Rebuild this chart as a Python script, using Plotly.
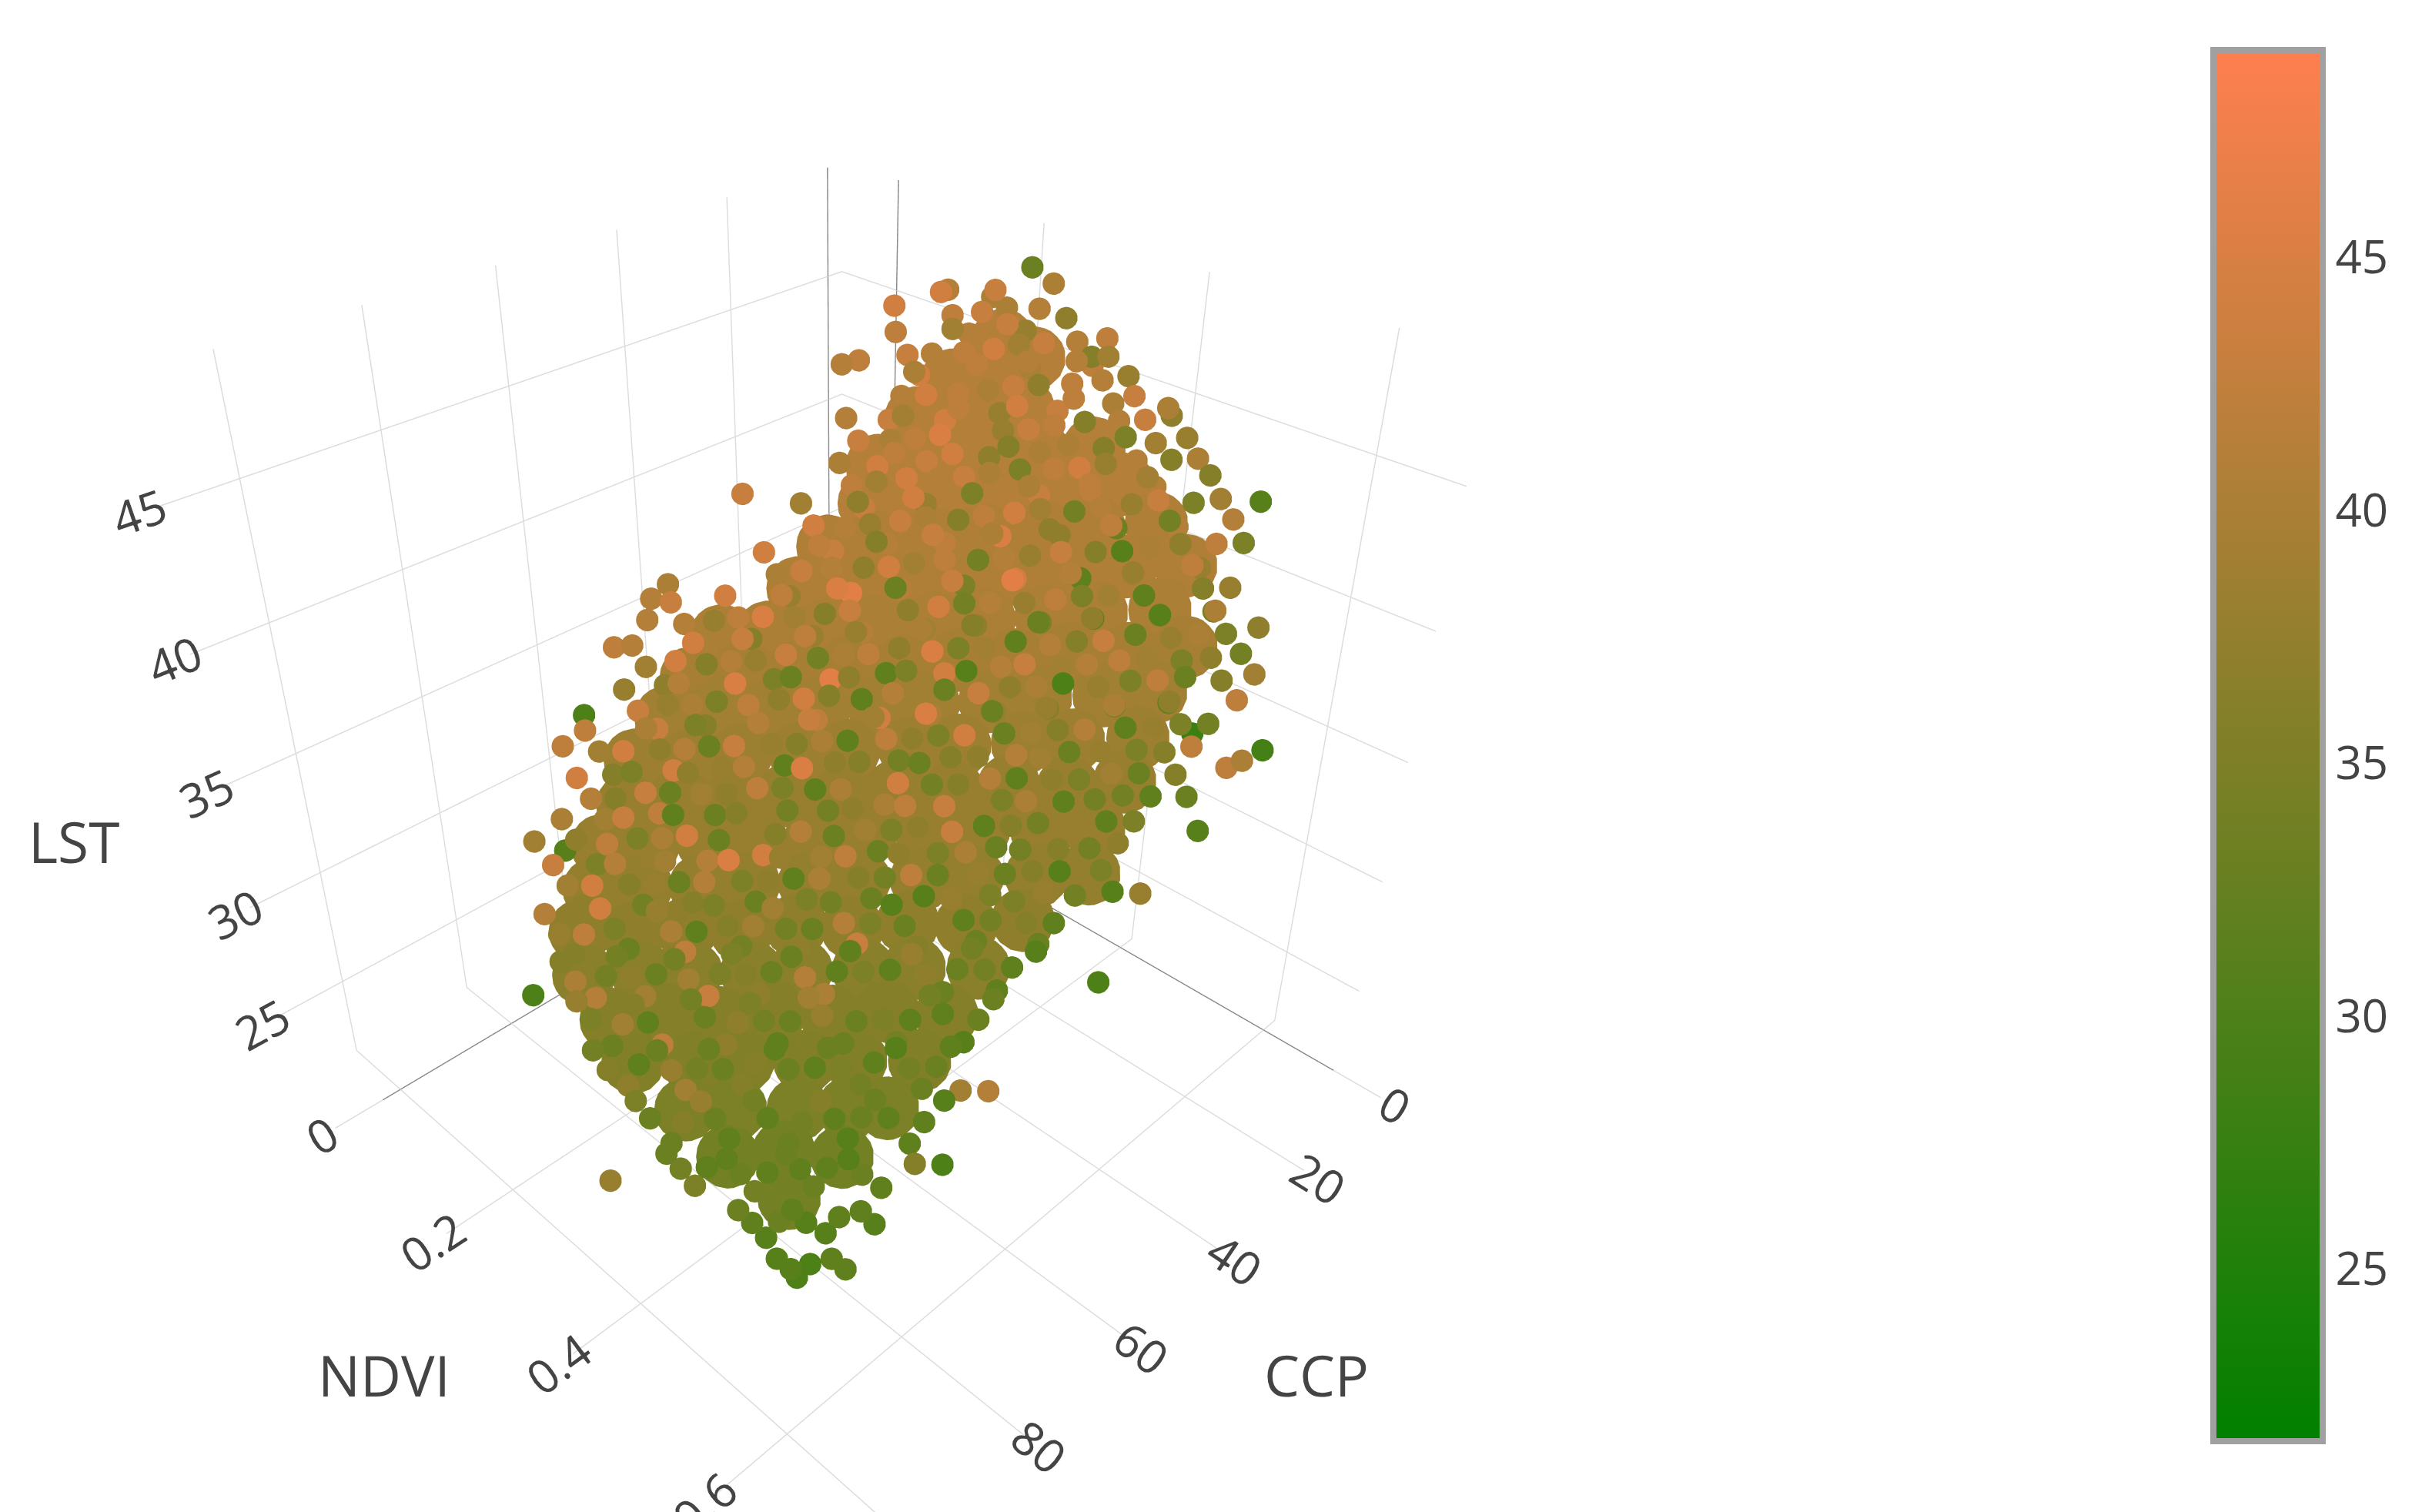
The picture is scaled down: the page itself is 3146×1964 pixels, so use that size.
import plotly.graph_objects as go

# cloud of samples top to bottom
ccp = [
    10, 7, 5, 3, 1,
    16, 14, 12, 9, 7, 5, 3, 0,
    20, 18, 16, 13, 11, 9, 7, 4, 2,
    27, 25, 23, 21, 18, 16, 14, 12, 9, 7, 5, 3,
    31, 29, 26, 24, 22, 20, 17, 15, 13, 11, 8, 6, 4,
    37, 35, 33, 30, 28, 26, 24, 21, 19, 17, 15, 12, 10, 8, 6,
    44, 42, 39, 37, 35, 33, 30, 28, 26, 24, 21, 19, 17, 15, 12, 10, 8,
    55, 52, 50, 48, 46, 43, 41, 39, 37, 34, 32, 30, 28, 25, 23, 21, 19, 16, 14, 12,
    61, 58, 56, 54, 52, 49, 47, 45, 43, 40, 38, 36, 34, 31, 29, 27, 25, 22, 20, 18, 16, 13,
    65, 62, 60, 58, 56, 53, 51, 49, 47, 44, 42, 40, 38, 35, 33, 31, 29, 26, 24, 22, 20, 17,
    71, 69, 66, 64, 62, 60, 57, 55, 53, 51, 48, 46, 44, 42, 39, 37, 35, 33, 30, 28, 26, 24,
    75, 73, 70, 68, 66, 64, 61, 59, 57, 55, 52, 50, 48, 46, 43, 41, 39, 37, 34, 32, 30, 28,
    79, 77, 74, 72, 70, 68, 65, 63, 61, 59, 56, 54, 52, 50, 47, 45, 43, 41, 38, 36, 34,
    83, 81, 78, 76, 74, 72, 69, 67, 65, 63, 60, 58, 56, 54, 51, 49, 47, 45, 42, 40,
    87, 85, 82, 80, 78, 76, 73, 71, 69, 67, 64, 62, 60, 58, 55, 53, 51, 49, 46,
    89, 86, 84, 82, 80, 77, 75, 73, 71, 68, 66, 64, 62, 59, 57, 55, 53,
    90, 88, 86, 84, 81, 79, 77, 75, 72, 70, 68, 66, 63, 61, 59,
    92, 89, 87, 85, 83, 80, 78, 76, 74, 71, 69, 67, 65,
    92, 90, 87, 85, 83, 81, 78, 76, 74, 72, 69,
    93, 91, 89, 87, 84, 82, 80, 77,
    91, 89, 87, 84, 82,
    91, 89, 87,
    # stragglers around the edge
    81, 79, 68, 72, 61, 54, 52, 56, 39, 21, 19, 12, 7, 4, -1,
    28, 30, 31, 22, 31, 40, 49, 64, 66, 72, 74, 98, 92, 2, 5, 4, 9,
]
ndvi = [
    .15, .17, .19, .22, .24,
    .13, .15, .18, .20, .22, .24, .27, .29,
    .15, .17, .20, .22, .24, .26, .29, .31, .33,
    .14, .17, .19, .21, .23, .26, .28, .30, .32, .35, .37, .39,
    .16, .18, .20, .23, .25, .27, .29, .32, .34, .36, .38, .41, .43,
    .15, .18, .20, .22, .24, .27, .29, .31, .33, .36, .38, .40, .42, .45, .47,
    .15, .17, .19, .22, .24, .26, .28, .31, .33, .35, .37, .40, .42, .44, .46, .49, .51,
    .10, .12, .14, .16, .19, .21, .23, .25, .28, .30, .32, .34, .37, .39, .41, .43, .46, .48, .50, .52,
    .09, .11, .14, .16, .18, .20, .23, .25, .27, .29, .32, .34, .36, .38, .41, .43, .45, .47, .50, .52, .54, .56,
    .11, .13, .15, .17, .20, .22, .24, .26, .29, .31, .33, .35, .38, .40, .42, .44, .47, .49, .51, .53, .56, .58,
    .10, .12, .15, .17, .19, .21, .24, .26, .28, .30, .33, .35, .37, .39, .42, .44, .46, .48, .51, .53, .55, .57,
    .12, .14, .16, .18, .21, .23, .25, .27, .30, .32, .34, .36, .39, .41, .43, .45, .48, .50, .52, .54, .57, .59,
    .13, .16, .18, .20, .22, .25, .27, .29, .31, .34, .36, .38, .40, .43, .45, .47, .49, .52, .54, .56, .58,
    .15, .17, .20, .22, .24, .26, .29, .31, .33, .35, .38, .40, .42, .44, .47, .49, .51, .53, .56, .58,
    .17, .19, .21, .23, .26, .28, .30, .32, .35, .37, .39, .41, .44, .46, .48, .50, .53, .55, .57,
    .21, .23, .25, .27, .30, .32, .34, .36, .39, .41, .43, .45, .48, .50, .52, .54, .57,
    .24, .27, .29, .31, .33, .36, .38, .40, .42, .45, .47, .49, .51, .54, .56,
    .28, .30, .33, .35, .37, .39, .42, .44, .46, .48, .51, .53, .55,
    .34, .37, .39, .41, .43, .46, .48, .50, .52, .55, .57,
    .39, .41, .44, .46, .48, .50, .53, .55,
    .47, .49, .51, .53, .56,
    .52, .53, .56,
    .10, .13, .07, .07, .06, .06, .07, .07, .08, .09, .10, .10, .14, .18, .20,
    .66, .65, .64, .56, .62, .61, .62, .59, .57, .59, .57, .35, .19, .51, .41, .33, .32,
]
lst = [
    47.1, 45.6, 47.2, 45.9, 47.6,
    45.9, 44.4, 46.2, 44.6, 46.4, 44.9, 46.8, 45.1,
    43.2, 45, 43.4, 45.4, 43.7, 45.6, 44, 45.9, 44.3,
    43.7, 42.1, 44, 42.4, 44.3, 42.7, 44.6, 43, 44.9, 43.3, 45.2, 43.6,
    42.6, 41, 43, 41.3, 43.2, 41.6, 43.5, 41.9, 43.8, 42.2, 44.1, 42.5, 44.3,
    41.5, 39.9, 41.8, 40.2, 42, 40.5, 42.4, 40.8, 42.7, 41.1, 43, 41.4, 43.3, 41.7, 43.6,
    40.3, 38.7, 40.6, 39, 41, 39.3, 41.3, 39.6, 41.6, 40, 41.8, 40.2, 42.2, 40.5, 42.4, 40.9, 42.7,
    38.8, 37.2, 39.1, 37.5, 39.4, 37.8, 39.7, 38.1, 40, 38.4, 40.3, 38.7, 40.6, 39, 40.9, 39.3, 41.2, 39.6, 41.5, 39.9,
    37.6, 36, 37.9, 36.3, 38.2, 36.6, 38.5, 36.9, 38.8, 37.2, 39.1, 37.5, 39.4, 37.8, 39.7, 38.1, 40, 38.4, 40.3, 38.7, 40.6, 39,
    36.6, 35, 36.9, 35.3, 37.2, 35.6, 37.5, 35.9, 37.8, 36.2, 38.1, 36.5, 38.4, 36.8, 38.7, 37.1, 39, 37.4, 39.3, 37.7, 39.6, 38,
    35.5, 33.8, 35.8, 34.2, 36.1, 34.5, 36.4, 34.8, 36.7, 35.1, 37, 35.4, 37.3, 35.7, 37.6, 36, 37.9, 36.3, 38.2, 36.6, 38.5, 36.9,
    34.4, 32.8, 34.7, 33.1, 35, 33.4, 35.3, 33.7, 35.6, 34, 35.9, 34.3, 36.2, 34.6, 36.5, 34.9, 36.8, 35.2, 37.1, 35.5, 37.4, 35.8,
    33.4, 31.8, 33.7, 32.1, 34, 32.4, 34.3, 32.7, 34.6, 33, 34.9, 33.3, 35.2, 33.6, 35.5, 33.9, 35.8, 34.2, 36.1, 34.5, 36.4,
    32.4, 30.8, 32.7, 31.1, 33, 31.4, 33.3, 31.7, 33.6, 32, 33.9, 32.3, 34.2, 32.6, 34.5, 32.9, 34.8, 33.2, 35.1, 33.5,
    31.3, 29.7, 31.6, 30, 31.9, 30.3, 32.2, 30.6, 32.5, 30.9, 32.8, 31.2, 33.1, 31.5, 33.4, 31.8, 33.7, 32.1, 34,
    30.4, 28.8, 30.7, 29.1, 31, 29.4, 31.3, 29.7, 31.6, 30, 31.9, 30.3, 32.2, 30.6, 32.5, 30.9, 32.8,
    29.5, 27.9, 29.8, 28.2, 30.1, 28.5, 30.4, 28.8, 30.7, 29.1, 31, 29.4, 31.3, 29.7, 31.6,
    28.6, 27, 28.9, 27.3, 29.2, 27.6, 29.5, 27.9, 29.8, 28.2, 30.1, 28.5, 30.4,
    27.8, 26.3, 28.1, 26.6, 28.4, 26.9, 28.7, 27.2, 29, 27.5, 29.3,
    26.9, 25.6, 27.2, 25.9, 27.5, 26.2, 27.8, 26.5,
    26.1, 25, 26.4, 25.3, 26.7,
    25.3, 24.3, 25.6,
    32.2, 32.1, 35.3, 34.5, 37.1, 38.3, 38.8, 37.8, 41.2, 44.7, 44.8, 46.3, 46.9, 46.8, 47.7,
    38.7, 38.4, 38.1, 37, 35.4, 34, 32, 29.3, 29.2, 27.6, 27.5, 25.6, 29, 42.8, 45.2, 46.1, 46.2,
]
temp = [
    44, 41, 43, 38, 40,
    42, 44, 39, 41, 43, 40, 37, 42,
    43, 40, 44, 42, 38, 41, 43, 36, 40,
    41, 44, 39, 43, 42, 37, 44, 40, 42, 36, 43, 39,
    40, 43, 42, 38, 44, 41, 36, 43, 40, 42, 35, 41, 38,
    39, 43, 37, 41, 44, 42, 35, 45, 40, 37, 42, 33, 39, 41, 36,
    44, 38, 42, 46, 36, 41, 43, 35, 40, 44, 37, 32, 42, 39, 34, 38, 41,
    43, 40, 44, 36, 42, 38, 45, 41, 33, 39, 43, 37, 46, 35, 41, 31, 38, 36, 42, 34,
    41, 37, 44, 39, 43, 35, 42, 46, 38, 32, 40, 44, 36, 41, 33, 39, 37, 42, 31, 35, 40, 34,
    38, 43, 41, 36, 45, 39, 33, 42, 37, 44, 35, 40, 31, 38, 43, 36, 41, 34, 39, 32, 37, 42,
    42, 36, 40, 44, 35, 38, 41, 32, 43, 37, 39, 34, 45, 36, 33, 41, 38, 33, 40, 35, 37, 42,
    44, 39, 35, 42, 37, 33, 41, 38, 45, 34, 36, 40, 33, 43, 37, 35, 39, 32, 38, 34, 36, 33,
    40, 35, 43, 38, 32, 41, 36, 44, 34, 39, 37, 33, 42, 35, 38, 33, 40, 36, 34, 37, 32,
    43, 37, 41, 34, 39, 36, 45, 33, 38, 35, 42, 33, 37, 31, 40, 35, 34, 38, 34, 31,
    41, 36, 44, 33, 38, 42, 35, 34, 39, 37, 34, 43, 31, 36, 38, 33, 35, 33, 34,
    36, 41, 34, 39, 34, 43, 35, 37, 33, 40, 32, 36, 38, 33, 34, 32, 31,
    38, 33, 36, 42, 34, 37, 35, 32, 39, 33, 36, 34, 34, 31, 33,
    34, 37, 33, 39, 33, 36, 32, 35, 33, 34, 31, 33, 32,
    35, 33, 38, 32, 34, 33, 36, 31, 33, 32, 31,
    33, 35, 32, 34, 33, 33, 31, 32,
    33, 31, 32, 31, 32,
    31, 30, 32,
    39, 31, 30, 42, 42, 41, 40, 41, 43, 41, 42, 44, 41, 40, 33,
    29, 40, 42, 28, 31, 38, 30, 41, 39, 30, 36, 38, 30, 31, 40, 39, 41,
]

# more samples, filling in between the rows above
ccp_b = [
    9, 6, 4, 2,
    15, 13, 11, 8, 6, 4, 2, -1,
    19, 17, 15, 12, 10, 8, 6, 3, 1,
    26, 24, 22, 20, 17, 15, 13, 11, 8, 6, 4, 2,
    30, 28, 25, 23, 21, 19, 16, 14, 12, 10, 7, 5, 3,
    36, 34, 32, 29, 27, 25, 23, 20, 18, 16, 14, 11, 9, 7, 5,
    43, 41, 38, 36, 34, 32, 29, 27, 25, 23, 20, 18, 16, 14, 11, 9, 7,
    54, 51, 49, 47, 45, 42, 40, 38, 36, 33, 31, 29, 27, 24, 22, 20, 18, 15, 13, 11,
    60, 57, 55, 53, 51, 48, 46, 44, 42, 39, 37, 35, 33, 30, 28, 26, 24, 21, 19, 17, 15, 12,
    64, 61, 59, 57, 55, 52, 50, 48, 46, 43, 41, 39, 37, 34, 32, 30, 28, 25, 23, 21, 19, 16,
    70, 68, 65, 63, 61, 59, 56, 54, 52, 50, 47, 45, 43, 41, 38, 36, 34, 32, 29, 27, 25, 23,
    74, 72, 69, 67, 65, 63, 60, 58, 56, 54, 51, 49, 47, 45, 42, 40, 38, 36, 33, 31, 29,
    78, 76, 73, 71, 69, 67, 64, 62, 60, 58, 55, 53, 51, 49, 46, 44, 42, 40, 37, 35,
    82, 80, 77, 75, 73, 71, 68, 66, 64, 62, 59, 57, 55, 53, 50, 48, 46, 44, 41,
    86, 84, 81, 79, 77, 75, 72, 70, 68, 66, 63, 61, 59, 57, 54, 52, 50, 48,
    88, 85, 83, 81, 79, 76, 74, 72, 70, 67, 65, 63, 61, 58, 56, 54,
    89, 87, 85, 83, 80, 78, 76, 74, 71, 69, 67, 65, 62, 60,
    91, 88, 86, 84, 82, 79, 77, 75, 73, 70, 68, 66,
    91, 89, 86, 84, 82, 80, 77, 75, 73, 71,
    92, 90, 88, 86, 83, 81, 79,
    90, 88, 86, 83, 81,
    90, 88, 86,
]
ndvi_b = [
    .16, .18, .20, .23,
    .14, .16, .19, .21, .23, .25, .28, .30,
    .16, .18, .21, .23, .25, .27, .30, .32, .34,
    .15, .18, .20, .22, .24, .27, .29, .31, .33, .36, .38, .40,
    .17, .19, .21, .24, .26, .28, .30, .33, .35, .37, .39, .42, .44,
    .16, .19, .21, .23, .25, .28, .30, .32, .34, .37, .39, .41, .43, .46, .48,
    .16, .18, .20, .23, .25, .27, .29, .32, .34, .36, .38, .41, .43, .45, .47, .50, .52,
    .11, .13, .15, .17, .20, .22, .24, .26, .29, .31, .33, .35, .38, .40, .42, .44, .47, .49, .51, .53,
    .10, .12, .15, .17, .19, .21, .24, .26, .28, .30, .33, .35, .37, .39, .42, .44, .46, .48, .51, .53, .55, .57,
    .12, .14, .16, .18, .21, .23, .25, .27, .30, .32, .34, .36, .39, .41, .43, .45, .48, .50, .52, .54, .57, .59,
    .11, .13, .16, .18, .20, .22, .25, .27, .29, .31, .34, .36, .38, .40, .43, .45, .47, .49, .52, .54, .56, .58,
    .13, .15, .17, .19, .22, .24, .26, .28, .31, .33, .35, .37, .40, .42, .44, .46, .49, .51, .53, .55, .58,
    .14, .17, .19, .21, .23, .26, .28, .30, .32, .35, .37, .39, .41, .44, .46, .48, .50, .53, .55, .57,
    .16, .18, .21, .23, .25, .27, .30, .32, .34, .36, .39, .41, .43, .45, .48, .50, .52, .54, .57,
    .18, .20, .22, .24, .27, .29, .31, .33, .36, .38, .40, .42, .45, .47, .49, .51, .54, .56,
    .22, .24, .26, .28, .31, .33, .35, .37, .40, .42, .44, .46, .49, .51, .53, .55,
    .25, .28, .30, .32, .34, .37, .39, .41, .43, .46, .48, .50, .52, .55,
    .29, .31, .34, .36, .38, .40, .43, .45, .47, .49, .52, .54,
    .35, .38, .40, .42, .44, .47, .49, .51, .53, .56,
    .40, .42, .45, .47, .49, .51, .54,
    .48, .50, .52, .54, .57,
    .53, .54, .57,
]
lst_b = [
    46.3, 46.4, 46.6, 46.7,
    45.1, 45.2, 45.4, 45.5, 45.7, 45.8, 46, 46.1,
    44.1, 44.2, 44.4, 44.5, 44.7, 44.8, 45, 45.1, 45.3,
    42.9, 43.1, 43.2, 43.4, 43.5, 43.7, 43.8, 44, 44.1, 44.3, 44.4, 44.6,
    41.8, 42, 42.1, 42.3, 42.4, 42.6, 42.7, 42.9, 43, 43.2, 43.3, 43.5, 43.6,
    40.7, 40.8, 41, 41.1, 41.3, 41.4, 41.6, 41.7, 41.9, 42, 42.2, 42.3, 42.5, 42.6, 42.8,
    39.5, 39.7, 39.8, 40, 40.1, 40.3, 40.4, 40.6, 40.7, 40.9, 41, 41.2, 41.3, 41.5, 41.6, 41.8, 41.9,
    38, 38.1, 38.3, 38.4, 38.6, 38.7, 38.9, 39, 39.2, 39.3, 39.5, 39.6, 39.8, 39.9, 40.1, 40.2, 40.4, 40.5, 40.7, 40.8,
    36.8, 37, 37.1, 37.3, 37.4, 37.6, 37.7, 37.9, 38, 38.2, 38.3, 38.5, 38.6, 38.8, 38.9, 39.1, 39.2, 39.4, 39.5, 39.7, 39.8, 40,
    35.8, 36, 36.1, 36.3, 36.4, 36.6, 36.7, 36.9, 37, 37.2, 37.3, 37.5, 37.6, 37.8, 37.9, 38.1, 38.2, 38.4, 38.5, 38.7, 38.8, 39,
    34.7, 34.8, 35, 35.1, 35.3, 35.4, 35.6, 35.7, 35.9, 36, 36.2, 36.3, 36.5, 36.6, 36.8, 36.9, 37.1, 37.2, 37.4, 37.5, 37.7, 37.8,
    33.6, 33.7, 33.9, 34, 34.2, 34.3, 34.5, 34.6, 34.8, 34.9, 35.1, 35.2, 35.4, 35.5, 35.7, 35.8, 36, 36.1, 36.3, 36.4, 36.6,
    32.6, 32.7, 32.9, 33, 33.2, 33.3, 33.5, 33.6, 33.8, 33.9, 34.1, 34.2, 34.4, 34.5, 34.7, 34.8, 35, 35.1, 35.3, 35.4,
    31.6, 31.7, 31.9, 32, 32.2, 32.3, 32.5, 32.6, 32.8, 32.9, 33.1, 33.2, 33.4, 33.5, 33.7, 33.8, 34, 34.1, 34.3,
    30.5, 30.6, 30.8, 30.9, 31.1, 31.2, 31.4, 31.5, 31.7, 31.8, 32, 32.1, 32.3, 32.4, 32.6, 32.7, 32.9, 33,
    29.6, 29.8, 29.9, 30.1, 30.2, 30.4, 30.5, 30.7, 30.8, 31, 31.1, 31.3, 31.4, 31.6, 31.7, 31.9,
    28.8, 28.9, 29.1, 29.2, 29.4, 29.5, 29.7, 29.8, 30, 30.1, 30.3, 30.4, 30.6, 30.7,
    27.8, 28, 28.1, 28.3, 28.4, 28.6, 28.7, 28.9, 29, 29.2, 29.3, 29.5,
    27.1, 27.3, 27.4, 27.6, 27.7, 27.9, 28, 28.2, 28.3, 28.5,
    26.3, 26.5, 26.6, 26.8, 26.9, 27.1, 27.2,
    25.6, 25.8, 25.9, 26.1, 26.2,
    24.9, 25, 25.2,
]
temp_b = [
    42, 43, 40, 41,
    43, 41, 42, 44, 39, 43, 41, 42,
    41, 44, 42, 40, 43, 37, 42, 41, 38,
    43, 40, 42, 45, 41, 38, 43, 42, 36, 41, 43, 37,
    42, 39, 44, 41, 43, 40, 35, 42, 44, 38, 41, 36, 40,
    44, 41, 38, 43, 40, 36, 42, 44, 39, 34, 41, 38, 43, 35, 39,
    40, 43, 41, 37, 44, 39, 42, 34, 41, 38, 43, 36, 31, 40, 37, 42, 35,
    41, 38, 42, 45, 39, 36, 43, 40, 37, 44, 34, 41, 38, 42, 35, 39, 32, 40, 36, 38,
    39, 44, 36, 41, 38, 43, 34, 40, 42, 37, 45, 35, 39, 32, 41, 36, 43, 33, 38, 40, 35, 37,
    43, 38, 40, 35, 42, 37, 44, 36, 32, 41, 39, 33, 43, 37, 40, 30, 38, 35, 42, 33, 36, 39,
    39, 44, 37, 41, 33, 43, 38, 36, 40, 32, 42, 37, 35, 44, 33, 39, 36, 41, 32, 38, 35, 34,
    41, 36, 43, 33, 39, 37, 42, 35, 32, 40, 38, 44, 34, 36, 41, 32, 37, 35, 39, 33, 36,
    37, 42, 35, 40, 44, 33, 38, 36, 41, 33, 39, 35, 37, 43, 32, 36, 34, 38, 32, 35,
    39, 44, 36, 38, 33, 41, 35, 37, 32, 40, 36, 34, 42, 33, 38, 33, 36, 31, 35,
    38, 42, 35, 37, 40, 32, 36, 39, 34, 33, 41, 35, 33, 37, 32, 34, 36, 32,
    40, 34, 37, 33, 39, 35, 36, 33, 41, 32, 35, 32, 37, 33, 34, 32,
    35, 39, 32, 36, 33, 37, 34, 33, 38, 33, 35, 32, 32, 33,
    36, 32, 38, 34, 33, 36, 33, 32, 35, 32, 34, 33,
    33, 36, 33, 35, 32, 34, 32, 33, 32, 32,
    34, 32, 33, 32, 32, 32, 33,
    32, 33, 31, 32, 31,
    31, 30, 32,
]

# denser background of the cloud, seen through the gaps between the samples
core_ccp = [
    3, 1, 4, 0, 10, 6, 1, 18, 13, 9, 4, 0, 21, 17, 12, 8, 3, 0,
    28, 24, 19, 15, 10, 6, 1, 34, 30, 25, 21, 16, 12, 7, 3,
    44, 40, 35, 31, 26, 22, 17, 13, 8,
    50, 45, 41, 36, 32, 27, 23, 18, 14, 9,
    55, 51, 46, 42, 37, 33, 28, 24, 19, 15,
    61, 56, 52, 47, 43, 38, 34, 29, 25, 20,
    65, 60, 56, 51, 47, 42, 38, 33, 29, 24,
    70, 66, 61, 57, 52, 48, 43, 39, 34, 30,
    74, 70, 65, 61, 56, 52, 47, 43, 38, 34,
    78, 74, 69, 65, 60, 56, 51, 47, 42,
    81, 76, 72, 67, 63, 58, 54, 49,
    82, 77, 73, 68, 64, 59, 55,
    83, 78, 74, 69, 65, 60,
    82, 78, 73, 69, 66,
    82, 77, 73, 80,
]
core_ndvi = [
    .19, .22, .13, .17, .12, .17, .21, .12, .16, .21, .25, .30, .13, .18, .22, .27, .31, .34,
    .12, .16, .21, .25, .30, .34, .39, .12, .17, .21, .26, .30, .35, .39, .44,
    .08, .12, .17, .21, .26, .30, .35, .39, .44,
    .08, .12, .17, .21, .26, .30, .35, .39, .44, .48,
    .08, .12, .17, .21, .26, .30, .35, .39, .44, .48,
    .08, .13, .17, .22, .26, .31, .35, .40, .44, .49,
    .10, .14, .19, .23, .28, .32, .37, .41, .46, .50,
    .10, .14, .19, .23, .28, .32, .37, .41, .46, .50,
    .12, .16, .21, .25, .30, .34, .39, .43, .48, .52,
    .13, .18, .22, .27, .31, .36, .40, .45, .49,
    .16, .21, .25, .30, .34, .39, .43, .48,
    .21, .25, .30, .34, .39, .43, .48,
    .25, .30, .34, .39, .43, .48,
    .32, .36, .41, .45, .48,
    .38, .42, .47, .45,
]
core_lst = [
    45.3, 44.8, 43.3, 43.6, 42.2, 42.5, 42.8, 41, 41.3, 41.6, 41.9, 42.2, 39.9, 40.2, 40.5, 40.8, 41.1, 41.3,
    38.7, 39, 39.3, 39.6, 39.9, 40.2, 40.5, 37.6, 37.9, 38.2, 38.5, 38.8, 39.1, 39.4, 39.7,
    36.1, 36.4, 36.7, 37, 37.3, 37.6, 37.9, 38.2, 38.5,
    35, 35.3, 35.6, 35.9, 36.2, 36.5, 36.8, 37.1, 37.4, 37.7,
    33.9, 34.2, 34.5, 34.8, 35.1, 35.4, 35.7, 36, 36.3, 36.6,
    32.8, 33.1, 33.4, 33.7, 34, 34.3, 34.6, 34.9, 35.2, 35.5,
    31.7, 32, 32.3, 32.6, 32.9, 33.2, 33.5, 33.8, 34.1, 34.4,
    30.6, 30.9, 31.2, 31.5, 31.8, 32.1, 32.4, 32.7, 33, 33.3,
    29.6, 29.9, 30.2, 30.5, 30.8, 31.1, 31.4, 31.7, 32, 32.3,
    28.5, 28.8, 29.1, 29.4, 29.7, 30, 30.3, 30.6, 30.9,
    27.6, 27.9, 28.2, 28.5, 28.8, 29.1, 29.4, 29.7,
    26.8, 27.1, 27.4, 27.7, 28, 28.3, 28.6,
    25.9, 26.2, 26.5, 26.8, 27.1, 27.4,
    25.2, 25.5, 25.8, 26.1, 26.3,
    24.5, 24.8, 25.1, 24,
]
core_temp = [
    41, 41, 41, 41, 41, 41, 41, 41, 41, 41, 41, 41, 41, 41, 41, 41, 41, 41,
    40.5, 40.5, 40.5, 40.5, 40.5, 40.5, 40.5, 40.5, 40.5, 40.5, 40.5, 40.5, 40.5, 40.5, 40.5,
    40, 40, 40, 40, 40, 40, 40, 40, 40,
    39.5, 39.5, 39.5, 39.5, 39.5, 39.5, 39.5, 39.5, 39.5, 39.5,
    39, 39, 39, 39, 39, 39, 39, 39, 39, 39,
    38.5, 38.5, 38.5, 38.5, 38.5, 38.5, 38.5, 38.5, 38.5, 38.5,
    38, 38, 38, 38, 38, 38, 38, 38, 38, 38,
    38, 38, 38, 38, 38, 38, 38, 38, 38, 38,
    37.5, 37.5, 37.5, 37.5, 37.5, 37.5, 37.5, 37.5, 37.5, 37.5,
    37, 37, 37, 37, 37, 37, 37, 37, 37,
    36.5, 36.5, 36.5, 36.5, 36.5, 36.5, 36.5, 36.5,
    36, 36, 36, 36, 36, 36, 36,
    35.5, 35.5, 35.5, 35.5, 35.5, 35.5,
    35, 35, 35, 35, 35,
    34, 34, 34, 34,
]

ccp_ticks = [0, 20, 40, 60, 80, 100]
ndvi_ticks = [0, 0.2, 0.4, 0.6]
lst_ticks = [25, 30, 35, 40, 45]

GREEN_CORAL = [[0, "#008000"], [1, "#ff7f50"]]


def ax(rng, ticks):
    return dict(
        title=dict(text=""),
        range=rng, tickvals=ticks, tickfont=dict(size=27, color="#444444"),
        ticks="outside", ticklen=65, tickcolor="#dcdcdc", tickwidth=3,
        gridcolor="#dcdcdc", gridwidth=3, zeroline=True, zerolinecolor="#888888",
        zerolinewidth=3, showline=False, showbackground=False,
    )


fig = go.Figure()
fig.add_trace(go.Scatter3d(
    x=core_ccp, y=core_ndvi, z=core_lst, mode="markers", showlegend=False,
    marker=dict(size=48, color=core_temp, cmin=21.6, cmax=49.1, colorscale=GREEN_CORAL),
))
fig.add_trace(go.Scatter3d(
    x=ccp_b, y=ndvi_b, z=lst_b, mode="markers", showlegend=False,
    marker=dict(size=17, color=temp_b, cmin=21.6, cmax=49.1, colorscale=GREEN_CORAL),
))
fig.add_trace(go.Scatter3d(
    x=ccp, y=ndvi, z=lst, mode="markers", showlegend=False,
    marker=dict(
        size=17, color=temp, cmin=21.6, cmax=49.1, colorscale=GREEN_CORAL,
        colorbar=dict(
            thickness=142, len=0.92, ypad=0, x=0.908, xanchor="left", y=0.511, yanchor="middle",
            outlinecolor="#a0a0a0", outlinewidth=8, tickvals=lst_ticks,
            tickfont=dict(size=60, color="#444444"), ticks="",
        ),
    ),
))

# axis names sit further out than the 3d titles can be placed
for name, px, py in [("NDVI", 0.156, 0.095), ("CCP", 0.541, 0.095), ("LST", 0.028, 0.448)]:
    fig.add_annotation(text=name, x=px, y=py, xref="paper", yref="paper", showarrow=False,
                       xanchor="center", yanchor="middle",
                       font=dict(size=73, color="#444444"))

fig.update_layout(
    width=3146, height=1964, paper_bgcolor="white",
    margin=dict(l=0, r=0, t=0, b=0),
    font=dict(family="Open Sans"),
    scene=dict(
        domain=dict(x=[0, 0.69], y=[0, 1]),
        xaxis=ax([-3, 103], ccp_ticks),
        yaxis=ax([-0.085, 0.69], ndvi_ticks),
        zaxis=ax([21.6, 49.1], lst_ticks),
        aspectmode="manual",
        aspectratio=dict(x=0.94, y=0.94, z=0.98),
        camera=dict(eye=dict(x=1.25, y=1.25, z=1.2), center=dict(x=0, y=0, z=-0.012)),
    ),
)
fig.write_html("out.html")
